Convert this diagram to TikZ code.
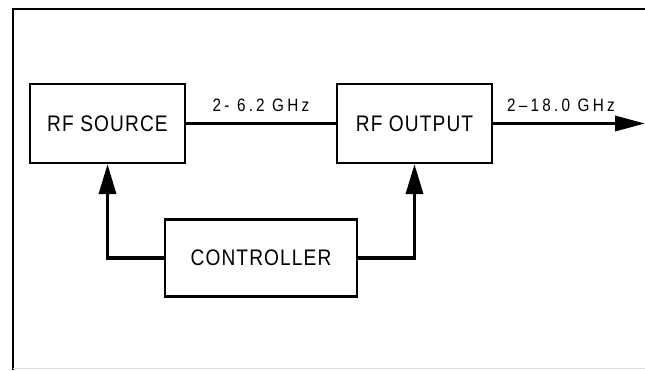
\documentclass[tikz,border=0pt]{standalone}
\usepackage{fontspec}
\setmainfont{Liberation Sans}
\newfontfamily\boxfont[FakeStretch=0.85,LetterSpace=5]{Liberation Sans}
\newfontfamily\labfont[FakeStretch=0.85,LetterSpace=18]{Liberation Sans}
\usetikzlibrary{arrows.meta}
\begin{document}
\begin{tikzpicture}[x=1pt,y=-1pt,
  blk/.style={draw, line width=2.2pt, inner sep=0pt, font=\boxfont\fontsize{22.5}{22.5}\selectfont},
  conn/.style={line width=3.5pt},
  lab/.style={anchor=base, inner sep=0pt, font=\labfont\fontsize{18}{18}\selectfont},
  tip/.style={-{Triangle[length=30pt,width=17pt]}}]
\useasboundingbox (0,0) rectangle (645,370);
% frame
\draw[line width=2.5pt] (13,370) -- (13,9) -- (645,9);
\draw[black!15, line width=1pt] (13,368.5) -- (645,368.5);
% blocks
\node[blk, minimum width=155pt, minimum height=79pt] (src) at (107.5,123.5) {RF SOURCE};
\node[blk, minimum width=155pt, minimum height=79pt] (out) at (414.5,123.5) {RF OUTPUT};
\node[blk, minimum width=192pt, minimum height=77pt] (ctrl) at (261,258) {CONTROLLER};
\coordinate (end) at (645,123.5);
% connectors
\draw[conn] (src.east) -- (out.west);
\draw[conn, -{Triangle[length=30pt,width=15pt]}] (out.east) -- (end);
\draw[conn, tip] (ctrl.west) -| (src.south);
\draw[conn, tip] (ctrl.east) -| (out.south);
% labels
\node[lab] (l1) at (261,111) {2- 6.2 GHz};
\node[lab] (l2) at (561,111) {2–18.0 GHz};
\end{tikzpicture}
\end{document}
